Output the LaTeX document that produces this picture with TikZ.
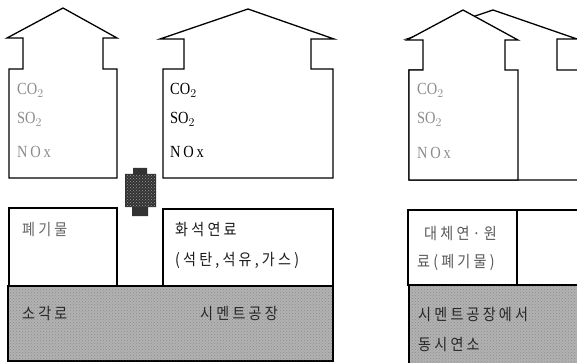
\documentclass[tikz,border=0pt]{standalone}
\usepackage{fontspec}
\setmainfont{Liberation Serif}
\newfontfamily\kr[FakeStretch=0.88,LetterSpace=20]{Noto Sans CJK KR}
\newfontfamily\lat[FakeStretch=0.85]{Liberation Serif}
\usetikzlibrary{patterns}
\begin{document}
\begin{tikzpicture}[x=1pt,y=-1pt,
  house/.style={draw=black,line width=1.3pt,fill=white,line join=miter},
  box/.style={draw=black,line width=1.2pt,fill=white},
  ground/.style={draw=black,line width=1.2pt,fill=black!30},
  gas/.style={anchor=base west,inner sep=0pt,font=\lat\fontsize{17}{19}\selectfont},
  faint/.style={text=black!45},
  krtxt/.style={anchor=base west,inner sep=0pt,font=\kr\fontsize{16}{18}\selectfont,text=black!90},
  krgnd/.style={anchor=base west,inner sep=0pt,font=\kr\fontsize{16}{18}\selectfont,text=black!85}]
\useasboundingbox (0,0) rectangle (577,363);
\clip (0,0) rectangle (577,363);
\fill[white] (0,0) rectangle (577,363);
% ground strips
\draw[ground] (8,286) rectangle (333,361);
\fill[pattern=crosshatch dots,pattern color=black!45] (9,287) rectangle (332,360);
\draw[ground] (409,285) rectangle (590,370);
\fill[pattern=crosshatch dots,pattern color=black!45] (410,286) rectangle (577,363);
% boxes
\draw[box] (9,208) rectangle (117,286);
\draw[box] (163,209) rectangle (333,286);
\draw[box] (517,210) rectangle (590,285);
\draw[box] (408,210) rectangle (517,285);
% house D (behind)
\draw[house] (409,180) -- (409,70) -- (430,70) -- (430,39) -- (407,39) -- (493,10) -- (577,39) -- (557,39) -- (557,70) -- (590,70) -- (590,180) -- cycle;
% house A
\draw[house] (9,178) -- (9,69) -- (23,69) -- (23,38) -- (7,38) -- (63,8) -- (117,38) -- (103,38) -- (103,69) -- (117,69) -- (117,178) -- cycle;
% house B
\draw[house] (163,178) -- (163,69) -- (184,69) -- (184,39) -- (160,39) -- (248,9) -- (334,39) -- (311,39) -- (311,69) -- (333,69) -- (333,178) -- cycle;
% house C
\draw[house] (409,180) -- (409,70) -- (423,70) -- (423,40) -- (407,40) -- (463,10) -- (518,40) -- (505,40) -- (505,70) -- (518,70) -- (518,180) -- cycle;
% dark connector
\fill[black!80] (133,168) -- (147,168) -- (147,174) -- (156,174) -- (156,207) -- (148,207) -- (148,216) -- (132,216) -- (132,207) -- (125,207) -- (125,174) -- (133,174) -- cycle;
\fill[pattern=crosshatch dots,pattern color=black!40] (126,175) rectangle (155,206);
% gas texts
\node[gas,faint] (a1) at (17,95) {CO$_2$};
\node[gas,faint] (a2) at (17,124) {SO$_2$};
\node[gas,faint] (a3) at (17,158) {N\,O\,x};
\node[gas] (b1) at (170,95) {CO$_2$};
\node[gas] (b2) at (170,124) {SO$_2$};
\node[gas] (b3) at (170,158) {N\,O\,x};
\node[gas,faint] (c1) at (417,95) {CO$_2$};
\node[gas,faint] (c2) at (417,124) {SO$_2$};
\node[gas,faint] (c3) at (417,159) {N\,O\,x};
% box texts
\node[krtxt,text=black!60] (t1) at (22,235) {폐기물};
\node[krtxt] (t2) at (175,235) {화석연료};
\node[krtxt] (t3) at (175,265) {(석탄,석유,가스)};
\node[krtxt,text=black!65] (t4) at (424,239) {대체연·원};
\node[krtxt,text=black!65] (t5) at (417,267) {료(폐기물)};
% ground texts
\node[krgnd] (g1) at (22,319) {소각로};
\node[krgnd] (g2) at (200,319) {시멘트공장};
\node[krgnd] (g3) at (418,320) {시멘트공장에서};
\node[krgnd] (g4) at (418,350) {동시연소};
\end{tikzpicture}
\end{document}
